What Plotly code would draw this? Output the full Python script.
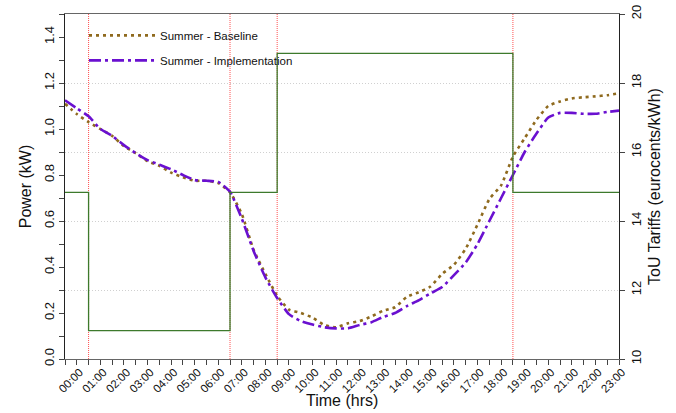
import plotly.graph_objects as go

# Half-hour slots (index 0..47); labels at every other slot
slots = list(range(48))
tick_slots = list(range(1, 48, 2))
tick_labels = [f"{h:02d}:00" for h in range(24)]

baseline = [1.11, 1.065, 1.03, 1.00, 0.97, 0.925, 0.895, 0.86, 0.84, 0.81,
            0.79, 0.775, 0.775, 0.765, 0.725, 0.63, 0.475, 0.37, 0.275, 0.215,
            0.20, 0.18, 0.148, 0.138, 0.155, 0.165, 0.185, 0.21, 0.225, 0.27,
            0.29, 0.315, 0.37, 0.41, 0.48, 0.585, 0.695, 0.755, 0.88, 0.96,
            1.04, 1.10, 1.12, 1.133, 1.138, 1.142, 1.147, 1.155]
implementation = [1.125, 1.09, 1.055, 1.00, 0.97, 0.93, 0.895, 0.865, 0.845, 0.825,
                  0.80, 0.778, 0.775, 0.77, 0.727, 0.61, 0.47, 0.355, 0.265, 0.195,
                  0.165, 0.15, 0.138, 0.133, 0.133, 0.148, 0.16, 0.183, 0.20, 0.23,
                  0.255, 0.285, 0.313, 0.365, 0.42, 0.50, 0.60, 0.70, 0.80, 0.90,
                  0.98, 1.05, 1.07, 1.07, 1.066, 1.066, 1.074, 1.08]

tariff_slots = [0, 2, 14, 18, 38, 47]
tariff_values = [14.83, 10.82, 14.83, 18.86, 14.83, 14.83]
tariff_change_slots = [2, 14, 18, 38]

font_family = "Arial, 'Liberation Sans', sans-serif"

fig = go.Figure()

fig.add_trace(go.Scatter(
    x=tariff_slots, y=tariff_values, yaxis="y2", mode="lines",
    line=dict(color="#3d7a2c", width=1.3, shape="hv"), showlegend=False,
))
fig.add_trace(go.Scatter(
    x=slots, y=baseline, mode="lines", name="Summer - Baseline", legendgroup="b",
    line=dict(color="#8f6a1e", width=2.6, dash="3px,4px", shape="spline", smoothing=0.5),
))
fig.add_trace(go.Scatter(
    x=slots, y=implementation, mode="lines", name="Summer - Implementation", legendgroup="i",
    line=dict(color="#6a10d0", width=2.6, dash="12px,4px,3px,4px", shape="spline", smoothing=0.5),
))

for s in tariff_change_slots:
    fig.add_shape(type="line", xref="x", yref="paper", x0=s, x1=s, y0=0, y1=1,
                  line=dict(color="#ff5050", width=1, dash="1px,1px"), layer="below")

fig.add_annotation(text="Time (hrs)", xref="paper", yref="paper", x=0.5, y=-0.119,
                   xanchor="center", yanchor="middle", showarrow=False,
                   font=dict(size=16, color="#111"))

fig.update_layout(
    width=676, height=413,
    margin=dict(l=65, r=57, t=14, b=54),
    paper_bgcolor="white", plot_bgcolor="white",
    font=dict(family=font_family, size=12, color="#111"),
    showlegend=True,
    legend=dict(x=0.0343, y=0.98, xanchor="left", yanchor="top",
                bgcolor="rgba(0,0,0,0)", borderwidth=0,
                font=dict(size=11.5, color="#111"), itemwidth=66,
                tracegroupgap=6),
    xaxis=dict(
        range=[0, 47], tickmode="array", tickvals=tick_slots, ticktext=tick_labels,
        tickangle=-45, ticks="outside", ticklen=5, tickcolor="#444",
        tickfont=dict(size=11.5), automargin=False, ticklabelstandoff=-4,
        ticklabelshift=3,
        minor=dict(dtick=1, tick0=0, ticks="outside", ticklen=5, tickcolor="#444"),
        showline=True, linecolor="#666", linewidth=1, mirror=True,
        showgrid=False, zeroline=False,
    ),
    yaxis=dict(
        range=[0, 1.5], tickvals=[0, 0.2, 0.4, 0.6, 0.8, 1.0, 1.2, 1.4],
        ticktext=["0.0", "0.2", "0.4", "0.6", "0.8", "1.0", "1.2", "1.4"],
        tickangle=-90, ticks="outside", ticklen=5, tickcolor="#444",
        tickfont=dict(size=13), automargin=False,
        minor=dict(dtick=0.1, tick0=0, ticks="outside", ticklen=5, tickcolor="#444"),
        showline=True, linecolor="#222", linewidth=1,
        showgrid=False, zeroline=False,
        title=dict(text="Power (kW)", font=dict(size=16), standoff=6),
    ),
    yaxis2=dict(
        overlaying="y", side="right", range=[10, 20],
        tickvals=[10, 12, 14, 16, 18, 20], tickangle=-90,
        ticks="outside", ticklen=5, tickcolor="#444", tickfont=dict(size=13),
        showline=True, linecolor="#222", linewidth=1, automargin=False,
        showgrid=True, gridcolor="#d0d0d0", griddash="1px,2px", gridwidth=1,
        zeroline=False,
        title=dict(text="ToU Tariffs (eurocents/kWh)", font=dict(size=16), standoff=6),
    ),
)

fig.write_html("out.html")
